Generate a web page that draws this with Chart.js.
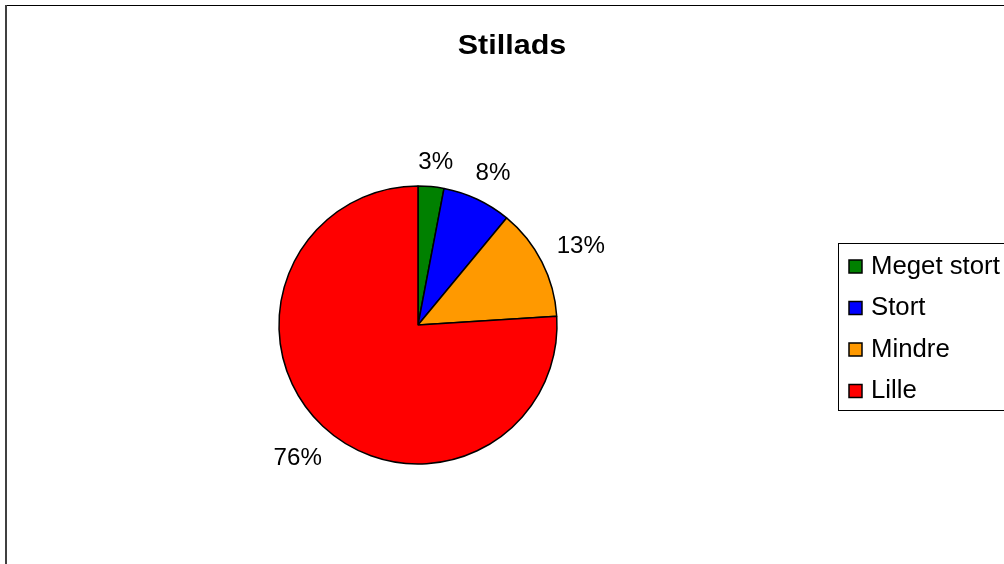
<!DOCTYPE html>
<html>
<head>
<meta charset="utf-8">
<script src="https://cdn.jsdelivr.net/npm/chart.js@4/dist/chart.umd.min.js"></script>
<style>
  html, body { margin: 0; padding: 0; background: #fff; }
  #wrap { width: 1004px; height: 564px; position: relative; }
</style>
</head>
<body>
<div id="wrap"><canvas id="chart" width="1004" height="564"></canvas></div>
<script>
// data
const categories = ['Meget stort', 'Stort', 'Mindre', 'Lille'];
const shares     = [3, 8, 13, 76];
const colors     = ['#008000', '#0000ff', '#ff9900', '#ff0000'];
const titleText  = 'Stillads';

const FONT = '"Liberation Sans", Arial, sans-serif';

// draw text stretched horizontally around its anchor
function wideText(ctx, txt, x, y, sx) {
  ctx.save();
  ctx.translate(x, y);
  ctx.scale(sx, 1);
  ctx.fillText(txt, 0, 0);
  ctx.restore();
}

// frame, title, outside labels and boxed legend
const decor = {
  id: 'decor',
  afterDraw(chart) {
    const ctx = chart.ctx;
    ctx.save();

    // outer frame (right/bottom edges sit outside the window)
    ctx.strokeStyle = '#000';
    ctx.lineWidth = 1;
    ctx.beginPath();
    ctx.moveTo(6, 5.5); ctx.lineTo(1004, 5.5);
    ctx.stroke();
    ctx.strokeStyle = '#404040';
    ctx.lineWidth = 2;
    ctx.beginPath();
    ctx.moveTo(6, 5); ctx.lineTo(6, 564);
    ctx.stroke();

    // title
    ctx.fillStyle = '#000';
    ctx.font = 'bold 27px ' + FONT;
    ctx.textAlign = 'center';
    ctx.textBaseline = 'alphabetic';
    wideText(ctx, titleText, 512, 54, 1.13);

    // percentage labels outside the slices
    const sxLab = 1.05;
    ctx.font = '23px ' + FONT;
    const meta = chart.getDatasetMeta(0);
    const total = shares.reduce((a, b) => a + b, 0);
    meta.data.forEach((arc, i) => {
      const mid = (arc.startAngle + arc.endAngle) / 2;
      const txt = Math.round(shares[i] / total * 100) + '%';
      const w = ctx.measureText(txt).width * sxLab;
      const h = 22;
      const cx = Math.cos(mid), cy = Math.sin(mid);
      const d = arc.outerRadius + 15 + Math.abs(cx) * w / 2 + Math.abs(cy) * h / 2;
      // baseline sits under the label centre
      wideText(ctx, txt, arc.x + cx * d + 2, arc.y + cy * d + 10, sxLab);
    });

    // legend box
    ctx.strokeStyle = '#000';
    ctx.lineWidth = 1;
    ctx.strokeRect(838.5, 243.5, 200, 167);
    ctx.textAlign = 'left';
    ctx.font = '25px ' + FONT;
    categories.forEach((name, i) => {
      const y = 266.5 + i * 41.5;
      ctx.fillStyle = colors[i];
      ctx.fillRect(849, y - 6.5, 13, 13);
      ctx.strokeStyle = '#000';
      ctx.lineWidth = 1.5;
      ctx.strokeRect(849, y - 6.5, 13, 13);
      ctx.fillStyle = '#000';
      wideText(ctx, name, 871, y + 7, 1.03);
    });

    ctx.restore();
  }
};

new Chart(document.getElementById('chart'), {
  type: 'pie',
  data: {
    labels: categories,
    datasets: [{
      data: shares,
      backgroundColor: colors,
      borderColor: '#000',
      borderWidth: 1.5
    }]
  },
  options: {
    responsive: false,
    animation: false,
    radius: 139,
    layout: { padding: { left: 279, top: 186, right: 447, bottom: 100 } },
    plugins: {
      legend: { display: false },
      title: { display: false },
      tooltip: { enabled: false }
    }
  },
  plugins: [decor]
});
</script>
</body>
</html>
